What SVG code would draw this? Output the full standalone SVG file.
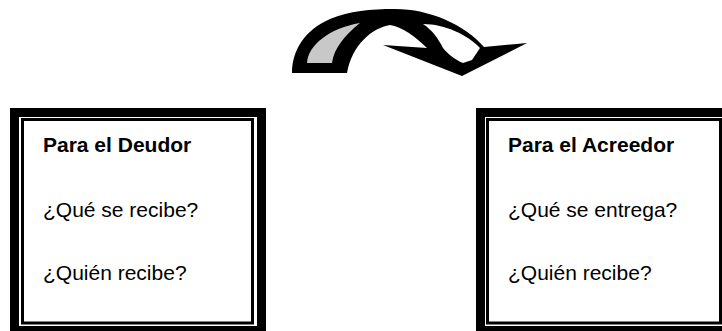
<svg xmlns="http://www.w3.org/2000/svg" width="722" height="331" viewBox="0 0 722 331">
<style>
.t{font-family:"Liberation Sans",Arial,sans-serif;font-size:21px;fill:#000}
.b{font-weight:bold}
.outer{fill:none;stroke:#000;stroke-width:9}
.inner{fill:none;stroke:#000;stroke-width:3}
</style>
<rect width="722" height="331" fill="#fff"/>
<g id="arrow">
<path d="M292,73 C292,50 305,30 330,19 C350,11 370,9 395,9 C430,9 465,25 484,47 L527,43 L462,76 L383,45 L427,48 C415,36 402,27 390,25 C372,28 352,45 347,73 Z" fill="#000"/>
<path d="M307,63 C308,45 330,28 360,23 C345,35 334,48 332,63 Z" fill="#c8c8c8"/>
<path d="M423,24 C445,24 468,35 480,48 L472,60 L463,63 C455,60 447,53 443,48 C438,38 432,30 423,24 Z" fill="#fff"/>
</g>
<g id="deudor">
<rect class="outer" x="14.5" y="112.5" width="247" height="218"/>
<rect class="inner" x="22.5" y="119.5" width="230" height="203.5"/>
<text class="t b" x="43" y="152">Para el Deudor</text>
<text class="t" x="43" y="217">¿Qué se recibe?</text>
<text class="t" x="43" y="280">¿Quién recibe?</text>
</g>
<g id="acreedor">
<rect class="outer" x="480.5" y="112.5" width="254" height="218"/>
<rect class="inner" x="487.5" y="119.5" width="233" height="203.5"/>
<text class="t b" x="508" y="152">Para el Acreedor</text>
<text class="t" x="508" y="217">¿Qué se entrega?</text>
<text class="t" x="508" y="280">¿Quién recibe?</text>
</g>
</svg>
